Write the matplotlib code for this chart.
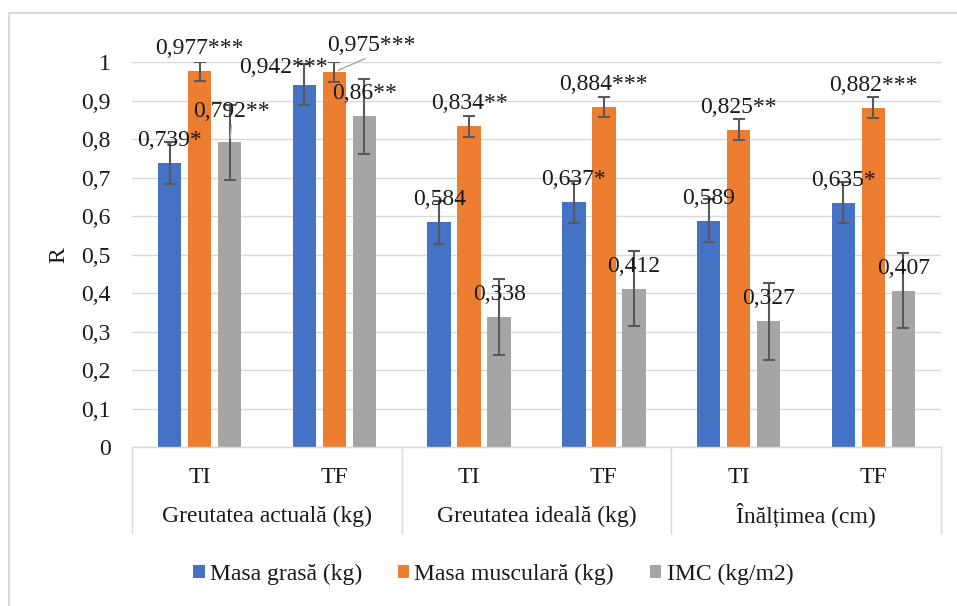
import matplotlib
matplotlib.use("Agg")
import matplotlib.pyplot as plt
from matplotlib.lines import Line2D
import matplotlib.transforms as mtransforms
import numpy as np

plt.rcParams['font.family'] = ['Liberation Serif', 'DejaVu Serif']

# date
grupe = ["Greutatea actuală (kg)", "Greutatea ideală (kg)", "Înălțimea (cm)"]
momente = ["TI", "TF", "TI", "TF", "TI", "TF"]
serii = ["Masa grasă (kg)", "Masa musculară (kg)", "IMC (kg/m2)"]

masa_grasa = [0.739, 0.942, 0.584, 0.637, 0.589, 0.635]
masa_musculara = [0.977, 0.975, 0.834, 0.884, 0.825, 0.882]
imc = [0.792, 0.86, 0.338, 0.412, 0.327, 0.407]

err_grasa = [0.055, 0.054, 0.055, 0.055, 0.056, 0.053]
err_musculara = [0.025, 0.026, 0.027, 0.027, 0.027, 0.027]
err_imc = [0.097, 0.097, 0.098, 0.097, 0.099, 0.097]

stele_grasa = ["*", "***", "", "*", "", "*"]
stele_musculara = ["***", "***", "**", "***", "**", "***"]
stele_imc = ["**", "**", "", "", "", ""]

culori = ['#4472C4', '#ED7D31', '#A5A5A5']
TXT = '#1a1a1a'
GRID = '#D9D9D9'
FS = 17

# deplasari etichete (pixeli: dx, dy peste bara), cateva mutate ca in Excel
deplasari = {(2, 0): (2, 25, True), (0, 1): (-21, 12, False), (1, 1): (37, 21, True)}

fig = plt.figure(figsize=(9.57, 6.06), dpi=100)
ax = fig.add_axes([132.3 / 957, 1 - 447.3 / 606, 808.4 / 957, 385 / 606])

valori = [masa_grasa, masa_musculara, imc]
erori = [err_grasa, err_musculara, err_imc]
stele = [stele_grasa, stele_musculara, stele_imc]

x = np.arange(len(momente))
pas = 0.2227
latime = 0.1745
for j in range(3):
    xs = x + (j - 1) * pas
    ax.bar(xs, valori[j], latime, color=culori[j], label=serii[j], zorder=2)
    ax.errorbar(xs, valori[j], yerr=erori[j], fmt='none', ecolor='#595959',
                elinewidth=1.5, capsize=4.5, capthick=1.5, zorder=3)
    for i, (xv, v) in enumerate(zip(xs, valori[j])):
        text = f"{v:g}".replace('.', ',') + stele[j][i]
        dx, dy, linie = deplasari.get((j, i), (0, 17, False))
        kw = {}
        if linie:
            kw['arrowprops'] = dict(arrowstyle='-', color='#A6A6A6', lw=1,
                                    relpos=(0.5, 0), shrinkA=0, shrinkB=3)
        ax.annotate(text, (xv, v), xytext=(dx * 0.72, dy * 0.72),
                    textcoords='offset points', ha='center', va='baseline',
                    fontsize=FS, color=TXT, zorder=4, **kw)

ax.set_xlim(-0.5, 5.5)
ax.set_ylim(0, 1)
ax.set_yticks(np.arange(0, 1.01, 0.1))
ax.set_yticklabels([f"{t:g}".replace('.', ',') for t in np.arange(0, 1.01, 0.1)])
ax.tick_params(axis='y', length=0, pad=15.5, labelsize=FS, labelcolor=TXT)
ax.set_xticks([])
ax.grid(axis='y', color=GRID, lw=1, zorder=0)
for s in ['top', 'right', 'left']:
    ax.spines[s].set_visible(False)
ax.spines['bottom'].set_color(GRID)
ax.spines['bottom'].set_linewidth(1)

# axa categoriilor pe doua niveluri
trans = mtransforms.blended_transform_factory(ax.transData, ax.transAxes)
for i, m in enumerate(momente):
    ax.text(i, -0.0935, m, transform=trans, ha='center', va='baseline',
            fontsize=FS, color=TXT)
for g, nume in enumerate(grupe):
    ax.text(2 * g + 0.5, -0.1932, nume, transform=trans, ha='center',
            va='baseline', fontsize=FS, color=TXT)
for b in [-0.5, 1.5, 3.5, 5.5]:
    ax.plot([b, b], [0, -0.2226], transform=trans, color=GRID, lw=1,
            clip_on=False)

fig.text(59 / 957, 1 - 255 / 606, 'R', rotation=90, ha='center', va='center',
         fontsize=FS, color=TXT)

fig.legend(loc='center', bbox_to_anchor=(493 / 957, 1 - 574.5 / 606), ncol=3,
           frameon=False, fontsize=FS, handlelength=0.5, handleheight=0.5,
           handletextpad=0.22, columnspacing=1.5, labelcolor=TXT)

# chenarul graficului
fig.add_artist(Line2D([9.3 / 957, 9.3 / 957], [0, 1 - 12.7 / 606], color=GRID,
                      lw=1.5, transform=fig.transFigure))
fig.add_artist(Line2D([9.3 / 957, 1], [1 - 12.7 / 606, 1 - 12.7 / 606],
                      color=GRID, lw=1.5, transform=fig.transFigure))

fig.savefig('out.png', dpi=100)
